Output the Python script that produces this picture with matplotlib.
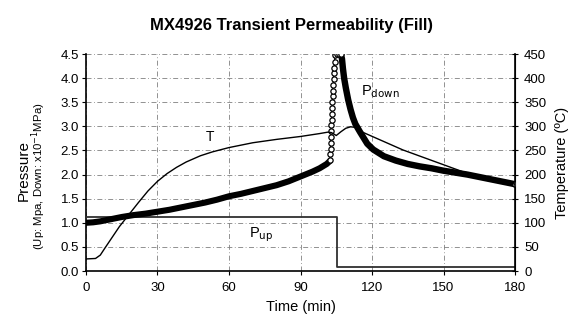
import matplotlib
matplotlib.use("Agg")
import matplotlib.pyplot as plt

plt.rcParams['font.family'] = ['Liberation Sans', 'DejaVu Sans']

# P_down (x10^-1 MPa), dense part before the jump
t_down = [0, 3, 6, 10, 15, 20, 25, 30, 35, 40, 45, 50, 55, 60, 65, 70, 75, 80, 85, 90,
          95, 98, 101, 102.3]
p_down = [1.00, 1.01, 1.03, 1.07, 1.12, 1.16, 1.19, 1.23, 1.27, 1.32, 1.37, 1.42, 1.48,
          1.55, 1.60, 1.66, 1.72, 1.78, 1.86, 1.96, 2.06, 2.13, 2.22, 2.28]

# P_down jump (sparse open circles)
t_rise = [102.4, 102.5, 102.6, 102.7, 102.8, 102.9, 103.0, 103.1, 103.2, 103.3, 103.4,
          103.5, 103.6, 103.75, 103.9, 104.0, 104.15, 104.3, 104.5, 105.3, 106.1, 106.9]
p_rise = [2.30, 2.42, 2.54, 2.66, 2.78, 2.90, 3.02, 3.14, 3.26, 3.38, 3.50, 3.62, 3.74,
          3.86, 3.98, 4.10, 4.22, 4.34, 4.48, 4.50, 4.50, 4.50]

# P_down decay after the peak
t_decay = [106.9, 107.4, 107.8, 108.3, 109, 110, 111, 112, 113, 115, 118, 120.5, 125, 130,
           135, 140, 145, 150, 155, 160, 165, 170, 175, 180]
p_decay = [4.50, 4.40, 4.20, 4.00, 3.80, 3.55, 3.35, 3.18, 3.05, 2.88, 2.64, 2.52, 2.38,
           2.29, 2.22, 2.17, 2.13, 2.08, 2.04, 2.00, 1.95, 1.90, 1.85, 1.80]

# P_up (MPa), step
t_up = [0, 105.2, 105.2, 180]
p_up = [1.12, 1.12, 0.09, 0.09]

# Temperature (C)
t_temp = [0, 4, 6, 8, 11, 14, 18, 22, 26, 30, 34, 38, 42, 48, 53, 60, 70, 80, 90, 98,
          101.5, 103, 105, 107, 109, 111, 113, 116, 133, 148, 158, 170, 180]
temp = [25, 26, 33, 48, 70, 92, 117, 142, 166, 186, 202, 215, 226, 239, 247, 256, 266,
        273, 279, 285, 288, 287, 281, 289, 296, 299, 298, 288, 251, 224, 206, 192, 180]

x_ticks = [0, 30, 60, 90, 120, 150, 180]
y_ticks = [0.0, 0.5, 1.0, 1.5, 2.0, 2.5, 3.0, 3.5, 4.0, 4.5]
t_ticks = [0, 50, 100, 150, 200, 250, 300, 350, 400, 450]

fig = plt.figure(figsize=(5.83, 3.32), dpi=100)
ax = fig.add_axes([0.1475, 0.1837, 0.7359, 0.6536])
ax2 = ax.twinx()

ax.plot(t_up, p_up, color='#303030', lw=1.3, zorder=3)
ax.plot(t_down + t_rise + t_decay, p_down + p_rise + p_decay, color='black', lw=1.0, zorder=4)
ax.plot(t_down, p_down, color='black', lw=4.4, solid_capstyle='round', zorder=4)
ax.plot(t_decay, p_decay, color='black', lw=4.6, solid_capstyle='round', zorder=4)
ax.plot(t_rise, p_rise, 'o', ms=3.8, mfc='white', mec='black', mew=0.9, zorder=5)
ax.plot([t_decay[-1]], [p_decay[-1]], 'o', ms=4, mfc='white', mec='black', mew=0.9, zorder=6)

ax2.plot(t_temp, temp, color='black', lw=1.0, zorder=3)

ax.set_xlim(0, 180)
ax.set_ylim(0, 4.5)
ax2.set_ylim(0, 450)
ax.set_xticks(x_ticks)
ax.set_yticks(y_ticks)
ax.set_yticklabels(['%.1f' % v for v in y_ticks])
ax2.set_yticks(t_ticks)

ax.grid(True, color='#808080', linestyle=(0, (6, 3, 1, 3)), lw=0.6)
ax.spines['top'].set_visible(False)
ax2.spines['top'].set_visible(False)
ax2.spines['left'].set_visible(False)
ax2.spines['bottom'].set_visible(False)
ax.spines['left'].set_linewidth(1.2)
ax.spines['bottom'].set_linewidth(1.2)
ax2.spines['right'].set_linewidth(1.2)

ax.tick_params(axis='both', direction='out', length=3, labelsize=9.5, pad=2)
ax.tick_params(axis='x', pad=5)
ax2.tick_params(axis='y', direction='inout', length=5, labelsize=9.5, pad=4)

fig.text(0.516, 0.075, 'Time (min)', fontsize=10.5, ha='center', va='center')
fig.text(0.964, 0.51, 'Temperature (ºC)', rotation=90, fontsize=10.5, ha='center', va='center')
fig.text(0.040, 0.485, 'Pressure', rotation=90, fontsize=11, ha='center', va='center')
fig.text(0.066, 0.47, '(Up: Mpa, Down: x10$^{-1}$MPa)', rotation=90, fontsize=8.2,
         ha='center', va='center')

ax.text(52, 2.78, 'T', fontsize=10, ha='center', va='center')
ax.text(115.5, 3.72, 'P$_{\\mathrm{down}}$', fontsize=10.5, ha='left', va='center')
ax.text(68.5, 0.75, 'P$_{\\mathrm{up}}$', fontsize=10.5, ha='left', va='center')

fig.text(0.5, 0.922, 'MX4926 Transient Permeability (Fill)', fontsize=12,
         fontweight='bold', ha='center', va='center')

fig.savefig('out.png', dpi=100)
